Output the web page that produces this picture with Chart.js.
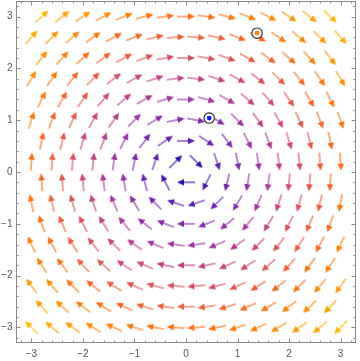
<!DOCTYPE html>
<html><head><meta charset="utf-8">
<script src="https://cdn.jsdelivr.net/npm/chart.js@4.4.1/dist/chart.umd.min.js"></script>
<style>html,body{margin:0;padding:0;background:#fff;}#wrap{width:360px;height:361px;}</style>
</head><body><div id="wrap"><canvas id="c" width="360" height="361"></canvas></div>
<script>
// Grid rows (y) and staggered columns (x) of the vector field sample points
const rowY = [3, 2.6, 2.2, 1.8, 1.4, 1, 0.6, 0.2, -0.2, -0.6, -1, -1.4, -1.8, -2.2, -2.6, -3];
const colXEven = [-2.8, -2.4, -2, -1.6, -1.2, -0.8, -0.4, 0, 0.4, 0.8, 1.2, 1.6, 2, 2.4, 2.8];
const colXOdd = [-3, -2.6, -2.2, -1.8, -1.4, -1, -0.6, -0.2, 0.2, 0.6, 1, 1.4, 1.8, 2.2, 2.6, 3];

// Vector components read per row (horizontal u, vertical v)
const vecU = [
  [3,3,3,3,3,3,3,3,3,3,3,3,3,3,3],
  [2.6,2.6,2.6,2.6,2.6,2.6,2.6,2.6,2.6,2.6,2.6,2.6,2.6,2.6,2.6,2.6],
  [2.2,2.2,2.2,2.2,2.2,2.2,2.2,2.2,2.2,2.2,2.2,2.2,2.2,2.2,2.2],
  [1.8,1.8,1.8,1.8,1.8,1.8,1.8,1.8,1.8,1.8,1.8,1.8,1.8,1.8,1.8,1.8],
  [1.4,1.4,1.4,1.4,1.4,1.4,1.4,1.4,1.4,1.4,1.4,1.4,1.4,1.4,1.4],
  [1,1,1,1,1,1,1,1,1,1,1,1,1,1,1,1],
  [0.6,0.6,0.6,0.6,0.6,0.6,0.6,0.6,0.6,0.6,0.6,0.6,0.6,0.6,0.6],
  [0.2,0.2,0.2,0.2,0.2,0.2,0.2,0.2,0.2,0.2,0.2,0.2,0.2,0.2,0.2,0.2],
  [-0.2,-0.2,-0.2,-0.2,-0.2,-0.2,-0.2,-0.2,-0.2,-0.2,-0.2,-0.2,-0.2,-0.2,-0.2],
  [-0.6,-0.6,-0.6,-0.6,-0.6,-0.6,-0.6,-0.6,-0.6,-0.6,-0.6,-0.6,-0.6,-0.6,-0.6,-0.6],
  [-1,-1,-1,-1,-1,-1,-1,-1,-1,-1,-1,-1,-1,-1,-1],
  [-1.4,-1.4,-1.4,-1.4,-1.4,-1.4,-1.4,-1.4,-1.4,-1.4,-1.4,-1.4,-1.4,-1.4,-1.4,-1.4],
  [-1.8,-1.8,-1.8,-1.8,-1.8,-1.8,-1.8,-1.8,-1.8,-1.8,-1.8,-1.8,-1.8,-1.8,-1.8],
  [-2.2,-2.2,-2.2,-2.2,-2.2,-2.2,-2.2,-2.2,-2.2,-2.2,-2.2,-2.2,-2.2,-2.2,-2.2,-2.2],
  [-2.6,-2.6,-2.6,-2.6,-2.6,-2.6,-2.6,-2.6,-2.6,-2.6,-2.6,-2.6,-2.6,-2.6,-2.6],
  [-3,-3,-3,-3,-3,-3,-3,-3,-3,-3,-3,-3,-3,-3,-3,-3]
];
const vecV = [
  [2.8,2.4,2,1.6,1.2,0.8,0.4,0,-0.4,-0.8,-1.2,-1.6,-2,-2.4,-2.8],
  [3,2.6,2.2,1.8,1.4,1,0.6,0.2,-0.2,-0.6,-1,-1.4,-1.8,-2.2,-2.6,-3],
  [2.8,2.4,2,1.6,1.2,0.8,0.4,0,-0.4,-0.8,-1.2,-1.6,-2,-2.4,-2.8],
  [3,2.6,2.2,1.8,1.4,1,0.6,0.2,-0.2,-0.6,-1,-1.4,-1.8,-2.2,-2.6,-3],
  [2.8,2.4,2,1.6,1.2,0.8,0.4,0,-0.4,-0.8,-1.2,-1.6,-2,-2.4,-2.8],
  [3,2.6,2.2,1.8,1.4,1,0.6,0.2,-0.2,-0.6,-1,-1.4,-1.8,-2.2,-2.6,-3],
  [2.8,2.4,2,1.6,1.2,0.8,0.4,0,-0.4,-0.8,-1.2,-1.6,-2,-2.4,-2.8],
  [3,2.6,2.2,1.8,1.4,1,0.6,0.2,-0.2,-0.6,-1,-1.4,-1.8,-2.2,-2.6,-3],
  [2.8,2.4,2,1.6,1.2,0.8,0.4,0,-0.4,-0.8,-1.2,-1.6,-2,-2.4,-2.8],
  [3,2.6,2.2,1.8,1.4,1,0.6,0.2,-0.2,-0.6,-1,-1.4,-1.8,-2.2,-2.6,-3],
  [2.8,2.4,2,1.6,1.2,0.8,0.4,0,-0.4,-0.8,-1.2,-1.6,-2,-2.4,-2.8],
  [3,2.6,2.2,1.8,1.4,1,0.6,0.2,-0.2,-0.6,-1,-1.4,-1.8,-2.2,-2.6,-3],
  [2.8,2.4,2,1.6,1.2,0.8,0.4,0,-0.4,-0.8,-1.2,-1.6,-2,-2.4,-2.8],
  [3,2.6,2.2,1.8,1.4,1,0.6,0.2,-0.2,-0.6,-1,-1.4,-1.8,-2.2,-2.6,-3],
  [2.8,2.4,2,1.6,1.2,0.8,0.4,0,-0.4,-0.8,-1.2,-1.6,-2,-2.4,-2.8],
  [3,2.6,2.2,1.8,1.4,1,0.6,0.2,-0.2,-0.6,-1,-1.4,-1.8,-2.2,-2.6,-3]
];

const tickValues = [-3, -2, -1, 0, 1, 2, 3];
const markerX = [0.45, 1.38];
const markerY = [1.04, 2.68];
const markerColors = ['#0a14ff', '#ff8a10'];

// colour gradient by magnitude (style)
const gradStops = [
  [0.0, [26, 10, 140]], [0.3, [48, 20, 185]], [0.6, [92, 28, 180]], [1.0, [122, 40, 172]],
  [1.4, [156, 50, 164]], [1.8, [188, 64, 134]], [2.2, [214, 76, 100]], [2.6, [238, 92, 60]],
  [3.0, [255, 108, 16]], [3.4, [255, 134, 0]], [3.8, [255, 158, 0]], [4.25, [255, 190, 0]]
];
function colorFor(m) {
  if (m <= gradStops[0][0]) return 'rgb(' + gradStops[0][1].join(',') + ')';
  for (let i = 1; i < gradStops.length; i++) {
    if (m <= gradStops[i][0]) {
      const a = gradStops[i - 1], b = gradStops[i];
      const t = (m - a[0]) / (b[0] - a[0]);
      const c = a[1].map((v, k) => Math.round(v + (b[1][k] - v) * t));
      return 'rgb(' + c.join(',') + ')';
    }
  }
  return 'rgb(' + gradStops[gradStops.length - 1][1].join(',') + ')';
}

const ARROW_LEN = 18, HEAD_LEN = 7, HEAD_HW = 3.3, CSZ = 26;
const arrowCache = {};
function arrowCanvas(col) {
  if (arrowCache[col]) return arrowCache[col];
  const cv = document.createElement('canvas');
  cv.width = CSZ; cv.height = CSZ;
  const g = cv.getContext('2d');
  const cx = CSZ / 2, cy = CSZ / 2;
  const tail = cx - ARROW_LEN / 2, tip = cx + ARROW_LEN / 2;
  g.strokeStyle = col; g.fillStyle = col; g.lineWidth = 1.1;
  g.beginPath(); g.moveTo(tail, cy); g.lineTo(tip - HEAD_LEN + 0.5, cy); g.stroke();
  g.beginPath(); g.moveTo(tip, cy); g.lineTo(tip - HEAD_LEN, cy - HEAD_HW); g.lineTo(tip - HEAD_LEN, cy + HEAD_HW); g.closePath(); g.fill();
  arrowCache[col] = cv;
  return cv;
}

const arrowData = [];
rowY.forEach((y, k) => {
  const xs = (k % 2 === 0) ? colXEven : colXOdd;
  xs.forEach((x, j) => {
    arrowData.push({ x: x, y: y, u: vecU[k][j], v: vecV[k][j] });
  });
});

const FRAME = '#8a8a8a';
const framePlugin = {
  id: 'frame',
  afterDatasetsDraw(chart) {
    const { ctx, chartArea: a, scales } = chart;
    const sx = scales.x, sy = scales.y;
    ctx.save();
    ctx.strokeStyle = FRAME; ctx.lineWidth = 1;
    ctx.strokeRect(Math.round(a.left) + 0.5, Math.round(a.top) + 0.5, Math.round(a.right - a.left) - 1, Math.round(a.bottom - a.top) - 1);
    ctx.beginPath();
    for (let i = -16; i <= 16; i++) {
      const val = i / 5;
      const len = (i % 5 === 0) ? 4.5 : 2.5;
      const px = Math.round(sx.getPixelForValue(val)) + 0.5;
      ctx.moveTo(px, a.bottom); ctx.lineTo(px, a.bottom - len);
      ctx.moveTo(px, a.top); ctx.lineTo(px, a.top + len);
      const py = Math.round(sy.getPixelForValue(val)) + 0.5;
      ctx.moveTo(a.left, py); ctx.lineTo(a.left + len, py);
      ctx.moveTo(a.right, py); ctx.lineTo(a.right - len, py);
    }
    ctx.stroke();
    ctx.restore();
  }
};

const fmt = v => (v < 0 ? '\u2212' + Math.abs(v) : String(v));
const tickFont = { family: 'Liberation Sans, Arial, sans-serif', size: 10 };

new Chart(document.getElementById('c'), {
  type: 'scatter',
  data: {
    datasets: [
      { data: markerX.map((x, i) => ({ x: x, y: markerY[i] })), pointStyle: 'circle', pointRadius: 2.4,
        backgroundColor: markerColors, borderWidth: 0 },
      { data: markerX.map((x, i) => ({ x: x, y: markerY[i] })), pointStyle: 'circle', pointRadius: 5.2,
        backgroundColor: '#ffffff', borderColor: '#222222', borderWidth: 1.1 },
      { data: arrowData,
        pointStyle: c => arrowCanvas(colorFor(Math.hypot(c.raw.u, c.raw.v))),
        rotation: c => -Math.atan2(c.raw.v, c.raw.u) * 180 / Math.PI,
        pointRadius: 9 }
    ]
  },
  options: {
    responsive: false,
    animation: false,
    layout: { autoPadding: false, padding: { top: 1, right: 4, left: 0, bottom: 0 } },
    plugins: { legend: { display: false }, tooltip: { enabled: false } },
    scales: {
      x: {
        type: 'linear', min: -3.3, max: 3.3,
        grid: { display: false, drawTicks: false }, border: { display: false },
        afterBuildTicks: s => { s.ticks = tickValues.map(v => ({ value: v })); },
        afterFit: s => { s.height = 18; s.paddingLeft = 0; s.paddingRight = 0; },
        ticks: { callback: v => fmt(v), color: '#555555', font: tickFont, padding: 5, maxRotation: 0 }
      },
      y: {
        type: 'linear', min: -3.3, max: 3.3,
        grid: { display: false, drawTicks: false }, border: { display: false },
        afterBuildTicks: s => { s.ticks = tickValues.map(v => ({ value: v })); },
        afterFit: s => { s.width = 16; s.paddingTop = 0; s.paddingBottom = 0; },
        ticks: { callback: v => fmt(v), color: '#555555', font: tickFont, padding: 3.5 }
      }
    }
  },
  plugins: [framePlugin]
});
</script></body></html>
